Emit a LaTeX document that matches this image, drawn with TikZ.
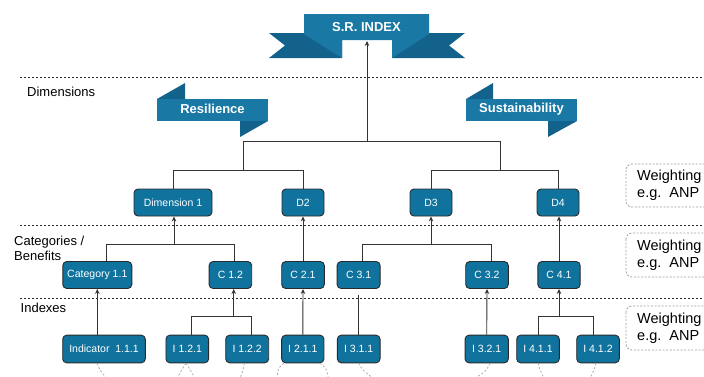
\documentclass[tikz,border=0pt]{standalone}
\usepackage{fontspec}
\setmainfont{Liberation Sans}
\usetikzlibrary{arrows.meta,calc}

\definecolor{boxblue}{HTML}{10739E}
\definecolor{boxline}{HTML}{2A2A2A}
\definecolor{ribmain}{HTML}{1A78A5}
\definecolor{ribdark}{HTML}{13628C}
\definecolor{ribdeep}{HTML}{0E5376}
\definecolor{wire}{HTML}{333333}

\tikzset{
  box/.style={draw=boxline, line width=0.9pt, fill=boxblue, rounded corners=4pt,
    text=white, font=\fontsize{10.5}{12}\selectfont, minimum height=27pt,
    inner sep=0pt},
  wirel/.style={draw=wire, line width=0.9pt},
  up/.style={wirel, -{Stealth[length=5pt,width=4.5pt]}},
  sepline/.style={draw=black!85, line width=0.8pt, dash pattern=on 2pt off 2pt},
  lvl/.style={anchor=west, align=left, font=\fontsize{13}{15.5}\selectfont, inner sep=0pt},
  weigh/.style={draw=gray!75, line width=0.8pt, dash pattern=on 2pt off 1.6pt, rounded corners=6pt},
  weightxt/.style={anchor=west, align=left, font=\fontsize{14.5}{17}\selectfont, inner sep=0pt},
  tailline/.style={draw=gray!65, line width=0.8pt, dash pattern=on 2pt off 2pt},
  ribtext/.style={text=white, font=\bfseries\fontsize{13}{15}\selectfont, inner sep=0pt}
}

\begin{document}
\begin{tikzpicture}[x=1pt, y=-1pt]
\useasboundingbox (0,0) rectangle (704,376);

% ---------- level separators ----------
\draw[sepline] (20,77) -- (704,77);
\draw[sepline] (20,225) -- (704,225);
\draw[sepline] (20,298) -- (704,298);

% ---------- level labels ----------
\node[lvl] (lbldim) at (27,92) {Dimensions};
\node[lvl] (lblcat) at (14,248.5) {Categories /\\Benefits};
\node[lvl] (lblidx) at (20.5,307.5) {Indexes};

% ---------- top ribbon: notched tails behind a folded front band ----------
\fill[ribdark] (269,33) -- (342,33) -- (342,58) -- (269,58) -- (285,45.5) -- cycle;
\fill[ribdark] (465,33) -- (392,33) -- (392,58) -- (465,58) -- (449,45.5) -- cycle;
\fill[ribmain] (304,14) -- (429,14) -- (429,34) -- (392,58) -- (392,40)
  -- (342,40) -- (342,58) -- (304,34) -- cycle;
\node[ribtext] (srindex) at (366.5,27) {S.R. INDEX};
\coordinate (srbot) at (367,41);

% ---------- side ribbons ----------
\fill[ribdark] (157,99) -- (185,83) -- (185,99) -- cycle;
\fill[ribdark] (240,121) -- (268,121) -- (240,137) -- cycle;
\fill[ribmain] (157,99) rectangle (268,121);
\node[ribtext] (resil) at (212.5,109) {Resilience};

\fill[ribdark] (466,99) -- (493,83) -- (493,99) -- cycle;
\fill[ribdark] (548,121) -- (577,121) -- (548,137) -- cycle;
\fill[ribmain] (466,99) rectangle (577,121);
\node[ribtext] (sustain) at (521.5,109) {Sustainability};

% ---------- dimensions ----------
\node[box, minimum width=78pt] (d1) at (173,202.5) {Dimension 1};
\node[box, minimum width=42pt] (d2) at (303,202.5) {D2};
\node[box, minimum width=42pt] (d3) at (431,202.5) {D3};
\node[box, minimum width=42pt] (d4) at (558,202.5) {D4};

% ---------- categories ----------
\node[box, minimum width=69pt] (c11) at (97.3,275) {Category 1.1};
\node[box, minimum width=42.6pt] (c12) at (230.4,275) {C 1.2};
\node[box, minimum width=42.6pt] (c21) at (303,275) {C 2.1};
\node[box, minimum width=43pt] (c31) at (358.6,275) {C 3.1};
\node[box, minimum width=42.6pt] (c32) at (487,275) {C 3.2};
\node[box, minimum width=42.3pt] (c41) at (559,275) {C 4.1};

% ---------- indicators ----------
\node[box, minimum width=82.6pt, minimum height=27.7pt] (i111) at (104,349) {Indicator~~1.1.1};
\node[box, minimum width=42.7pt, minimum height=27.7pt] (i121) at (187.3,349) {I 1.2.1};
\node[box, minimum width=43pt, minimum height=27.7pt] (i122) at (247.2,349) {I 1.2.2};
\node[box, minimum width=42.3pt, minimum height=27.7pt] (i211) at (302.8,349) {I 2.1.1};
\node[box, minimum width=42.7pt, minimum height=27.7pt] (i311) at (358.7,349) {I 3.1.1};
\node[box, minimum width=43.3pt, minimum height=27.7pt] (i321) at (486.7,349) {I 3.2.1};
\node[box, minimum width=42.6pt, minimum height=27.7pt] (i411) at (538,349) {I 4.1.1};
\node[box, minimum width=42.6pt, minimum height=27.7pt] (i412) at (598,349) {I 4.1.2};

% ---------- weighting notes ----------
\begin{scope}
  \clip (0,0) rectangle (704,376);
  \draw[weigh] (626,164) rectangle (714,207);
  \draw[weigh] (626,233) rectangle (714,277);
  \draw[weigh] (626,306) rectangle (714,350);
\end{scope}
\node[weightxt] (w1) at (637,185) {Weighting\\e.g.~~ANP};
\node[weightxt] (w2) at (637,255) {Weighting\\e.g.~~ANP};
\node[weightxt] (w3) at (637,328.5) {Weighting\\e.g.~~ANP};

% ---------- dimensions to index ----------
\coordinate (dlev) at (0,170);
\coordinate (dtop) at (0,141.5);
\draw[wirel] (d1.north) -- (d1.north |- dlev) -| (d2.north);
\draw[wirel] (d3.north) -- (d3.north |- dlev) -| (d4.north);
\draw[wirel] (243,170) -- (243,141.5) -| (500,170);
\draw[up] (srbot |- dtop) -- (srbot);

% ---------- categories to dimensions ----------
\coordinate (clev) at (0,244);
\draw[wirel] ([xshift=8.7pt]c11.north) -- ([xshift=8.7pt]c11.north |- clev) -| ([xshift=3.6pt]c12.north);
\draw[up] ([xshift=1pt]d1.south |- clev) -- ([xshift=1pt]d1.south);
\draw[up] (c21.north) -- (d2.south);
\draw[wirel] ([xshift=3.4pt]c31.north) -- ([xshift=3.4pt]c31.north |- clev) -| ([xshift=4pt]c32.north);
\draw[up] (d3.south |- clev) -- (d3.south);
\draw[up] (c41.north) -- (c41.north |- d4.south);

% ---------- indicators to categories ----------
\coordinate (ilev) at (0,316.7);
\draw[up] (i111.north -| c11.south) -- (c11.south);
\draw[wirel] ([xshift=4.4pt]i121.north) -- ([xshift=4.4pt]i121.north |- ilev) -| ([xshift=4.5pt]i122.north);
\draw[up] ([xshift=3.3pt]c12.south |- ilev) -- ([xshift=3.3pt]c12.south);
\draw[up] (i211.north) -- (c21.south);
\coordinate (c31end) at (358.7,295);
\draw[wirel] (i311.north) -- (c31end);
\draw[up] (i321.north) -- (c32.south);
\draw[wirel] (i411.north) -- (i411.north |- ilev) -| ([xshift=-4.7pt]i412.north);
\draw[up] (c41.south |- ilev) -- (c41.south);

% ---------- dashed links leaving the indicators ----------
\begin{scope}
  \clip (0,0) rectangle (704,376);
  \draw[tailline] ([xshift=-7pt]i111.south) .. controls +(3,7) .. +(13,19);
  \draw[tailline] ([xshift=-1.3pt]i121.south) .. controls +(-4,6) .. +(-10,17);
  \draw[tailline] ([xshift=-1.3pt]i121.south) .. controls +(4,6) .. +(10,17);
  \draw[tailline] ([xshift=-3pt]i122.south) .. controls +(-1,7) .. +(-5,17);
  \draw[tailline] ([xshift=-19pt]i211.south) .. controls +(-6,5) .. +(-7,19);
  \draw[tailline] ([xshift=17pt]i211.south) .. controls +(7,5) .. +(9,19);
  \draw[tailline] (i311.south) .. controls +(4,7) .. +(17,17);
  \draw[tailline] ([xshift=3.3pt]i321.south) .. controls +(-4,8) .. +(-17,16);
  \draw[tailline] (i411.south) .. controls +(2,7) .. +(7,17);
  \draw[tailline] ([xshift=-2pt]i412.south) .. controls +(-2,7) .. +(-7,17);
\end{scope}
\end{tikzpicture}
\end{document}
